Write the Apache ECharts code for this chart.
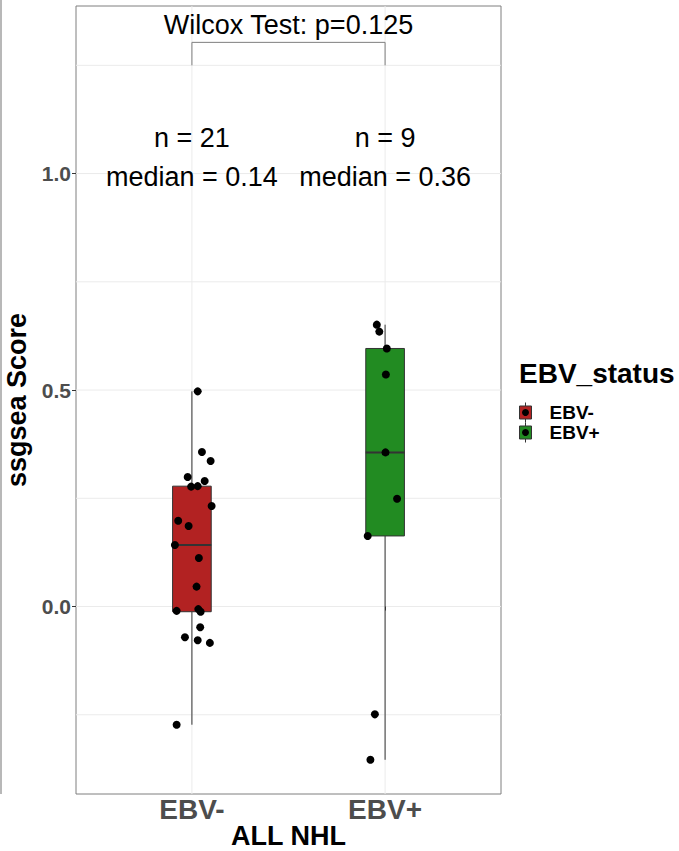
<!DOCTYPE html>
<html>
<head>
<meta charset="utf-8">
<script src="https://cdn.jsdelivr.net/npm/echarts@6/dist/echarts.min.js"></script>
<style>
  html, body { margin: 0; padding: 0; background: #ffffff; }
  #chart { width: 679px; height: 851px; }
</style>
</head>
<body>
<div id="chart"></div>
<script>
// ssGSEA scores of ALL NHL samples, split by EBV status
const groups = ['EBV-', 'EBV+'];
const groupColors = ['#B22222', '#228B22'];

const scoresNeg = [0.497, 0.357, 0.336, 0.299, 0.290, 0.277, 0.278, 0.232, 0.198, 0.186,
                   0.142, 0.112, 0.046, -0.010, -0.006, -0.012, -0.048, -0.071, -0.078, -0.084, -0.273];
const jitterNeg = [0.030, 0.052, 0.097, -0.022, 0.066, -0.004, 0.030, 0.102, -0.071, -0.017,
                   -0.088, 0.036, 0.024, -0.079, 0.033, 0.045, 0.043, -0.036, 0.030, 0.093, -0.079];

const scoresPos = [0.651, 0.635, 0.596, 0.536, 0.356, 0.249, 0.163, -0.249, -0.354];
const jitterPos = [-0.043, -0.030, 0.009, 0.004, 0.002, 0.062, -0.090, -0.053, -0.076];

const yMajorTicks = [0, 0.5, 1.0];
const yMinorTicks = [-0.25, 0.25, 0.75, 1.25];
const xTicks = [1, 2];
const wilcoxP = 0.125;

const FONT = '"Liberation Sans", Arial, Helvetica, sans-serif';
const BOX_WIDTH = 0.2;

// R type-7 quantile
function quantile(values, p) {
  const s = values.slice().sort((a, b) => a - b);
  const h = (s.length - 1) * p;
  const lo = Math.floor(h);
  const hi = Math.ceil(h);
  return s[lo] + (h - lo) * (s[hi] - s[lo]);
}

function boxStats(values, x) {
  const q1 = quantile(values, 0.25);
  const med = quantile(values, 0.5);
  const q3 = quantile(values, 0.75);
  const iqr = q3 - q1;
  const inside = values.filter(v => v >= q1 - 1.5 * iqr && v <= q3 + 1.5 * iqr);
  return [x, Math.min.apply(null, inside), q1, med, q3, Math.max.apply(null, inside)];
}

const allScores = [scoresNeg, scoresPos];
const allJitter = [jitterNeg, jitterPos];
const boxData = allScores.map((vals, i) => boxStats(vals, i + 1));

const pointData = [];
allScores.forEach((vals, gi) => {
  vals.forEach((v, k) => pointData.push([gi + 1 + allJitter[gi][k], v]));
});

const annotationText = allScores.map((vals, i) =>
  'n = ' + vals.length + '\nmedian = ' + quantile(vals, 0.5).toFixed(2));

// panel grid lines: [orientation, value]
const gridLineData = []
  .concat(yMinorTicks.map(v => ['h', v]))
  .concat(yMajorTicks.map(v => ['h', v]))
  .concat(xTicks.map(v => ['v', v]));

const chart = echarts.init(document.getElementById('chart'), null, { renderer: 'svg' });

const option = {
  animation: false,
  backgroundColor: '#ffffff',
  grid: {
    left: 76, right: 178, top: 6, bottom: 57,
    outerBoundsMode: 'none', containLabel: false,
    show: true, borderColor: '#7f7f7f', borderWidth: 1, backgroundColor: '#ffffff'
  },
  xAxis: {
    type: 'value', min: 0.4, max: 2.6,
    splitLine: { show: false },
    axisLine: { show: false },
    axisTick: { show: true, length: 4, customValues: xTicks, lineStyle: { color: '#333333' } },
    axisLabel: {
      customValues: xTicks,
      formatter: v => groups[Math.round(v) - 1] || '',
      color: '#4D4D4D', fontSize: 28, fontWeight: 'bold', fontFamily: FONT, margin: 1
    }
  },
  yAxis: {
    type: 'value', min: -0.433, max: 1.387,
    splitLine: { show: false },
    axisLine: { show: false },
    axisTick: { show: true, length: 4, customValues: yMajorTicks, lineStyle: { color: '#333333' } },
    axisLabel: {
      customValues: yMajorTicks,
      formatter: v => v.toFixed(1),
      color: '#4D4D4D', fontSize: 21, fontWeight: 'bold', fontFamily: FONT, margin: 5
    },
    name: 'ssgsea Score', nameLocation: 'middle', nameGap: 39,
    nameTextStyle: { color: '#000000', fontSize: 27, fontWeight: 'bold', fontFamily: FONT }
  },
  series: [
    {
      // background grid lines of the panel
      type: 'custom', z: 0, silent: true,
      data: gridLineData,
      encode: { x: -1, y: -1 },
      renderItem(params, api) {
        const d = gridLineData[params.dataIndex];
        const cs = params.coordSys;
        if (d[0] === 'h') {
          const y = api.coord([1, d[1]])[1];
          return { type: 'line', shape: { x1: cs.x, y1: y, x2: cs.x + cs.width, y2: y },
                   style: { stroke: '#EBEBEB', lineWidth: 1 } };
        }
        const x = api.coord([d[1], 0])[0];
        return { type: 'line', shape: { x1: x, y1: cs.y, x2: x, y2: cs.y + cs.height },
                 style: { stroke: '#EBEBEB', lineWidth: 1 } };
      }
    },
    {
      // box and whiskers for each group
      type: 'custom', z: 2, silent: true,
      data: boxData,
      encode: { x: 0, y: [1, 2, 3, 4, 5] },
      renderItem(params, api) {
        const x = api.value(0);
        const pLo = api.coord([x, api.value(1)]);
        const pQ1 = api.coord([x, api.value(2)]);
        const pMed = api.coord([x, api.value(3)]);
        const pQ3 = api.coord([x, api.value(4)]);
        const pHi = api.coord([x, api.value(5)]);
        const half = api.size([BOX_WIDTH, 0])[0] / 2;
        const color = groupColors[params.dataIndex];
        return {
          type: 'group',
          children: [
            { type: 'line', shape: { x1: pHi[0], y1: pHi[1], x2: pQ3[0], y2: pQ3[1] },
              style: { stroke: '#333333', lineWidth: 1 } },
            { type: 'line', shape: { x1: pQ1[0], y1: pQ1[1], x2: pLo[0], y2: pLo[1] },
              style: { stroke: '#333333', lineWidth: 1 } },
            { type: 'rect', shape: { x: pQ3[0] - half, y: pQ3[1], width: half * 2, height: pQ1[1] - pQ3[1] },
              style: { fill: color, stroke: '#333333', lineWidth: 1 } },
            { type: 'line', shape: { x1: pMed[0] - half, y1: pMed[1], x2: pMed[0] + half, y2: pMed[1] },
              style: { stroke: '#333333', lineWidth: 2 } }
          ]
        };
      }
    },
    {
      // individual samples
      type: 'scatter', z: 3, silent: true,
      data: pointData,
      symbol: 'circle', symbolSize: 8,
      itemStyle: { color: '#000000', opacity: 1 }
    },
    {
      // significance bracket
      type: 'line', z: 3, silent: true,
      data: [[1, 1.25], [1, 1.303], [2, 1.303], [2, 1.25]],
      symbol: 'none',
      lineStyle: { color: '#7f7f7f', width: 1 }
    },
    {
      // per-group counts and medians, plus the test result
      type: 'scatter', z: 4, silent: true,
      symbolSize: 1,
      itemStyle: { color: 'rgba(0,0,0,0)', opacity: 1 },
      data: [
        { value: [1, 1.037], label: { formatter: annotationText[0] } },
        { value: [2, 1.037], label: { formatter: annotationText[1] } },
        { value: [1.5, 1.343], label: { formatter: 'Wilcox Test: p=' + wilcoxP } }
      ],
      label: {
        show: true, position: 'inside', color: '#000000', textBorderWidth: 0, opacity: 1,
        fontSize: 27, lineHeight: 39, fontFamily: FONT, align: 'center', verticalAlign: 'middle'
      }
    }
  ],
  graphic: [
    { type: 'line', shape: { x1: 1, y1: 0, x2: 1, y2: 794 }, style: { stroke: '#a0a0a0', lineWidth: 1.5 } },
    // x axis title
    { type: 'text', x: 288.5, y: 836,
      style: { text: 'ALL NHL', fill: '#000000', font: 'bold 27px ' + FONT, align: 'center', verticalAlign: 'middle' } },
    // legend
    { type: 'text', left: 519, top: 359,
      style: { text: 'EBV_status', fill: '#000000', font: 'bold 28px ' + FONT } },
    ...groups.map((g, i) => ({
      type: 'group', left: 519, top: 400 + i * 20,
      children: [
        { type: 'line', shape: { x1: 7, y1: 0, x2: 7, y2: 20 }, style: { stroke: '#333333', lineWidth: 1 } },
        { type: 'rect', shape: { x: 1, y: 3.5, width: 12, height: 13 },
          style: { fill: groupColors[i], stroke: '#333333', lineWidth: 1 } },
        { type: 'circle', shape: { cx: 7, cy: 10, r: 3.5 }, style: { fill: '#000000' } },
        { type: 'text', x: 31, y: 10,
          style: { text: g, fill: '#000000', font: 'bold 19px ' + FONT, lineHeight: 19, verticalAlign: 'middle' } }
      ]
    }))
  ]
};

chart.setOption(option);
</script>
</body>
</html>
